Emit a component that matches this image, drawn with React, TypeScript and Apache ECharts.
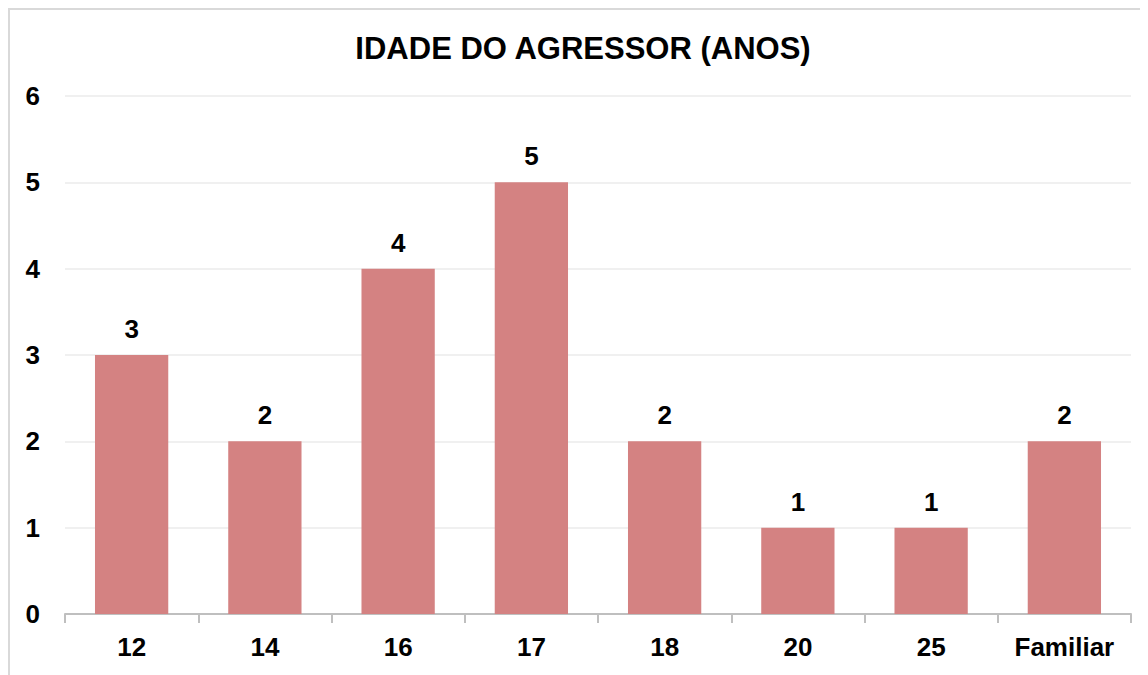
import React, { useEffect, useRef } from "react";
import * as echarts from "echarts";

const categories = ["12", "14", "16", "17", "18", "20", "25", "Familiar"];
const values = [3, 2, 4, 5, 2, 1, 1, 2];
const titleText = "IDADE DO AGRESSOR (ANOS)";

export default function App() {
  const ref = useRef<HTMLDivElement>(null);
  useEffect(() => {
    if (!ref.current) return;
    const chart = echarts.init(ref.current, undefined, { renderer: "svg" });
    const font = "'Liberation Sans', Arial, sans-serif";
    chart.setOption({
      animation: false,
      backgroundColor: "#ffffff",
      graphic: [
        {
          type: "text",
          x: 573,
          y: 38,
          style: {
            text: titleText,
            font: `bold 31px ${font}`,
            fill: "#000000",
            textAlign: "center",
            textVerticalAlign: "middle",
          },
        },
      ],
      grid: { left: 55, top: 86, width: 1066, height: 518, containLabel: false },
      xAxis: {
        type: "category",
        data: categories,
        axisLine: { show: true, lineStyle: { color: "#bfbfbf", width: 2 } },
        axisTick: { show: true, length: 9, lineStyle: { color: "#bfbfbf", width: 2 } },
        axisLabel: {
          margin: 20,
          color: "#000000",
          fontSize: 26,
          fontWeight: "bold",
          fontFamily: font,
        },
      },
      yAxis: {
        type: "value",
        min: 0,
        max: 6,
        interval: 1,
        axisLine: { show: false },
        axisTick: { show: false },
        splitLine: { lineStyle: { color: "#ebebeb", width: 1.5 } },
        axisLabel: {
          margin: 25,
          color: "#000000",
          fontSize: 26,
          fontWeight: "bold",
          fontFamily: font,
        },
      },
      series: [
        {
          type: "bar",
          data: values,
          barWidth: "55%",
          itemStyle: { color: "#d48282" },
          label: {
            show: true,
            position: "top",
            distance: 13,
            color: "#000000",
            fontSize: 26,
            fontWeight: "bold",
            fontFamily: font,
          },
        },
      ],
    });
    return () => chart.dispose();
  }, []);
  return (
    <div
      style={{
        width: 1160,
        height: 700,
        border: "2px solid #d9d9d9",
        boxSizing: "border-box",
        background: "#fff",
      }}
    >
      <div ref={ref} style={{ width: 1156, height: 696 }} />
    </div>
  );
}
